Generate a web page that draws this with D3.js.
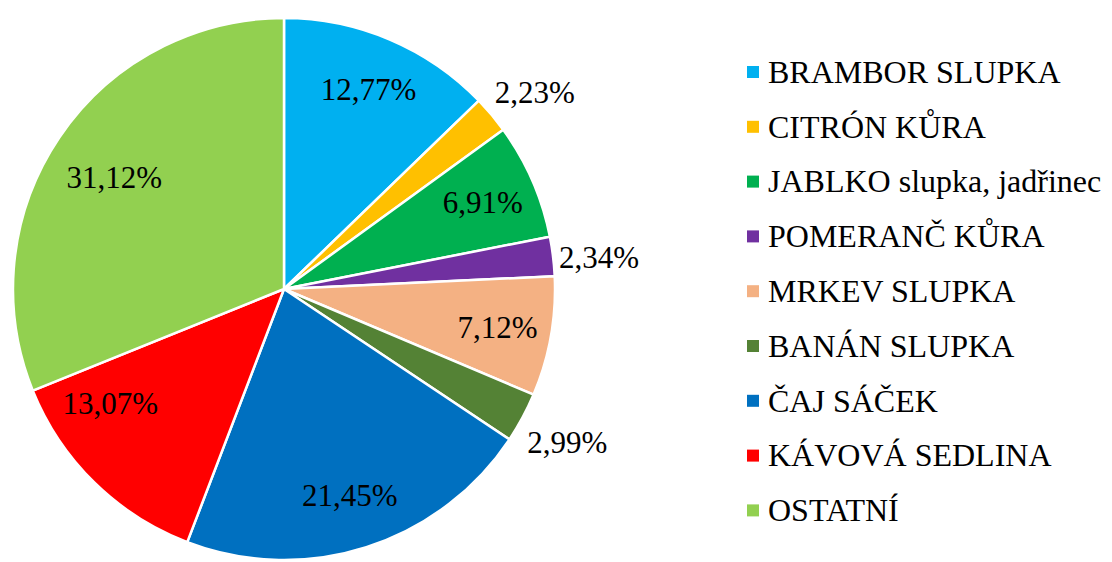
<!DOCTYPE html>
<html><head><meta charset="utf-8"><script src="https://cdn.jsdelivr.net/npm/d3@7"></script>
<style>
  svg text { font-family: "Liberation Serif", "Times New Roman", Times, serif !important; }
</style>
</head>
<body style="margin:0">
<svg id="chart" width="1112" height="562"></svg>
<script>
const categories = ["BRAMBOR SLUPKA", "CITRÓN KŮRA", "JABLKO slupka, jadřinec", "POMERANČ KŮRA",
  "MRKEV SLUPKA", "BANÁN SLUPKA", "ČAJ SÁČEK", "KÁVOVÁ SEDLINA", "OSTATNÍ"];
const values = [12.77, 2.23, 6.91, 2.34, 7.12, 2.99, 21.45, 13.07, 31.12];
const colors = ["#00B0F0", "#FFC000", "#00B050", "#7030A0", "#F4B183", "#548235", "#0070C0", "#FF0000", "#92D050"];
const outsideLabels = ["CITRÓN KŮRA", "POMERANČ KŮRA", "BANÁN SLUPKA"];

const svg = d3.select("#chart");
const cx = 284, cy = 289, R = 271;

const fmt = v => d3.format(".2f")(v).replace(".", ",") + "%";
const color = d3.scaleOrdinal().domain(categories).range(colors);

const data = categories.map((c, i) => ({ cat: c, value: values[i] }));
const pie = d3.pie().value(d => d.value).sort(null);
const arcs = pie(data);
const arc = d3.arc().innerRadius(0).outerRadius(R);

const g = svg.append("g").attr("transform", `translate(${cx},${cy})`);
g.selectAll("path.slice").data(arcs).join("path")
  .attr("class", "slice")
  .attr("d", arc)
  .attr("fill", d => color(d.data.cat))
  .attr("stroke", "#fff")
  .attr("stroke-width", 2.5)
  .attr("stroke-linejoin", "round");

// labels
const labelArc = d3.arc().innerRadius(R * 0.8).outerRadius(R * 0.8);
const nudge = { "KÁVOVÁ SEDLINA": [-22, -40], "OSTATNÍ": [10, 10] };
const fs = 31;
arcs.forEach(a => {
  const mid = (a.startAngle + a.endAngle) / 2;
  const txt = fmt(a.data.value);
  let t;
  if (outsideLabels.includes(a.data.cat)) {
    const rr = R + 12;
    const x = rr * Math.sin(mid), y = -rr * Math.cos(mid);
    const c = Math.cos(mid);
    let dy;
    if (c > 0.3) dy = -0.12 * fs;
    else if (c < -0.3) dy = 0.95 * fs;
    else dy = 0.42 * fs;
    t = g.append("text")
      .attr("x", x - 6).attr("y", y + dy)
      .attr("text-anchor", Math.sin(mid) >= 0 ? "start" : "end");
  } else {
    const [x, y] = labelArc.centroid(a);
    const n = nudge[a.data.cat] || [0, 0];
    t = g.append("text")
      .attr("x", x + n[0]).attr("y", y + n[1] + 0.34 * fs)
      .attr("text-anchor", "middle");
  }
  t.attr("font-size", fs).style("font-family", "'Liberation Serif', 'Times New Roman', serif", "important").text(txt);
});

// legend
const lx = 747, ly0 = 72, lstep = 54.8, lfs = 32;
const leg = svg.append("g");
categories.forEach((c, i) => {
  const y = ly0 + i * lstep;
  leg.append("rect").attr("x", lx).attr("y", y - 6).attr("width", 12).attr("height", 12)
    .attr("fill", color(c));
  leg.append("text").attr("x", lx + 21).attr("y", y + 0.34 * lfs)
    .attr("font-size", lfs)
    .style("font-family", "'Liberation Serif', 'Times New Roman', serif", "important")
    .text(c);
});
</script>
</body>
</html>
